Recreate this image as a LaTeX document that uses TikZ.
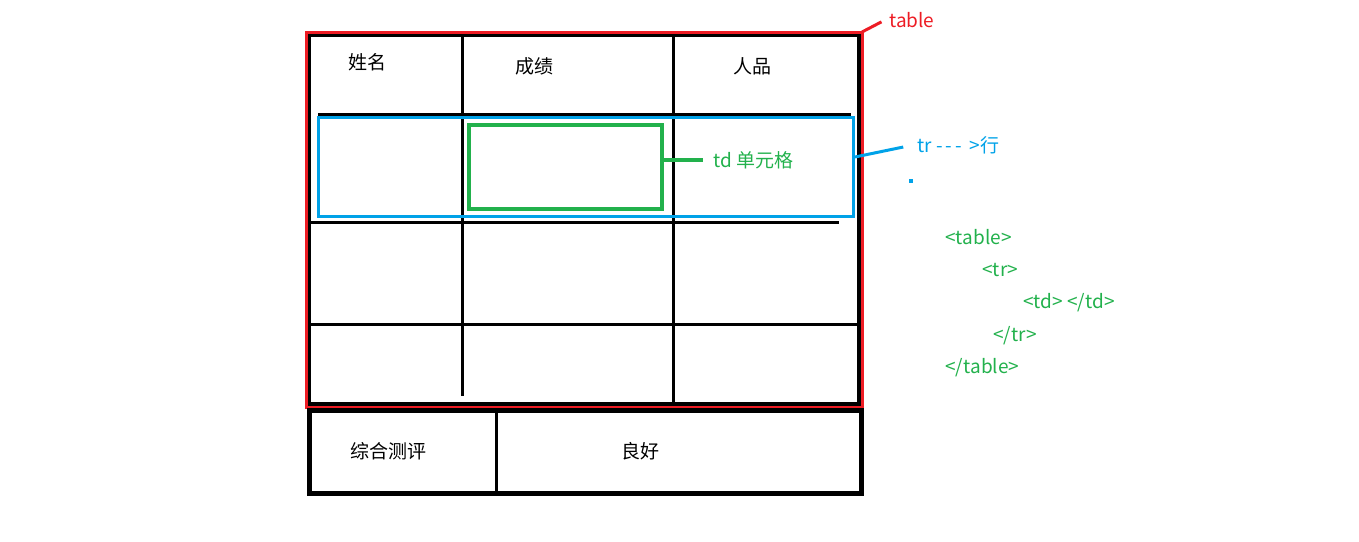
\documentclass[tikz,border=0pt]{standalone}
\usepackage{fontspec}
\newfontfamily\cjk{Noto Sans CJK SC}
\usetikzlibrary{positioning}
\definecolor{pred}{HTML}{ED1C24}
\definecolor{pblue}{HTML}{00A2E8}
\definecolor{pgreen}{HTML}{22B14C}

\begin{document}
\begin{tikzpicture}[x=0.5pt, y=-0.5pt,
  every node/.style={font=\cjk\fontsize{9.5}{11}\selectfont, inner sep=2pt},
  gridline/.style={line width=1.5pt},
  frame/.style={line width=1.6pt},
  note/.style={anchor=west},
  code/.style={anchor=west, text=pgreen},
]
\useasboundingbox (0,0) rectangle (1359,541);

% main table
\draw[frame] (309,35) rectangle (859,404);
\draw[gridline] (462,35) -- (462,396);
\draw[gridline] (673,35) -- (673,402);
\draw[gridline] (318,114) -- (851,114);
\draw[gridline] (308,222) -- (839,222);
\draw[gridline] (308,324) -- (859,324);
\draw[pred, line width=1.5pt] (306,32) rectangle (862,407);

% header row
\node (name) at (367,62) {姓名};
\node (score) at (534,66) {成绩};
\node (moral) at (752,66) {人品};

% tr and td marks
\draw[pblue, line width=1.5pt] (318,117) rectangle (853,216);
\draw[pgreen, line width=1.8pt] (469,125) rectangle (662,209);
\coordinate (tdend) at (662,160);
\coordinate (trend) at (855,157);
\coordinate (tabend) at (862,32);

\node[note, text=pgreen] (tdlabel) at (709,160) {td 单元格};
\draw[pgreen, line width=2pt, shorten >=3pt] (tdend) -- (tdlabel.west);
\node[note, text=pblue] (trlabel) at (913,145) {tr -\,-\,- \,>行};
\draw[pblue, line width=1.5pt, shorten >=5pt] (trend) -- (trlabel.west);
\fill[pblue] (909,179) rectangle (913,183);
\node[note, text=pred] (tablabel) at (885,20) {table};
\draw[pred, line width=1.5pt, shorten >=2pt] (tabend) -- (tablabel.west);

% code sketch
\node[code] (c1) at (941,237) {<table>};
\node[code] (c2) at (978,270) {<tr>};
\node[code] (c3) at (1019,303) {<td>\ </td>};
\node[code] (c4) at (989,336) {</tr>};
\node[code] (c5) at (941,368) {</table>};

% bottom table
\draw[line width=2.5pt] (309,410) rectangle (861,493);
\draw[gridline] (496,410) -- (496,493);
\node (evalkey) at (388,451) {综合测评};
\node (evalval) at (640,451) {良好};

\end{tikzpicture}
\end{document}
